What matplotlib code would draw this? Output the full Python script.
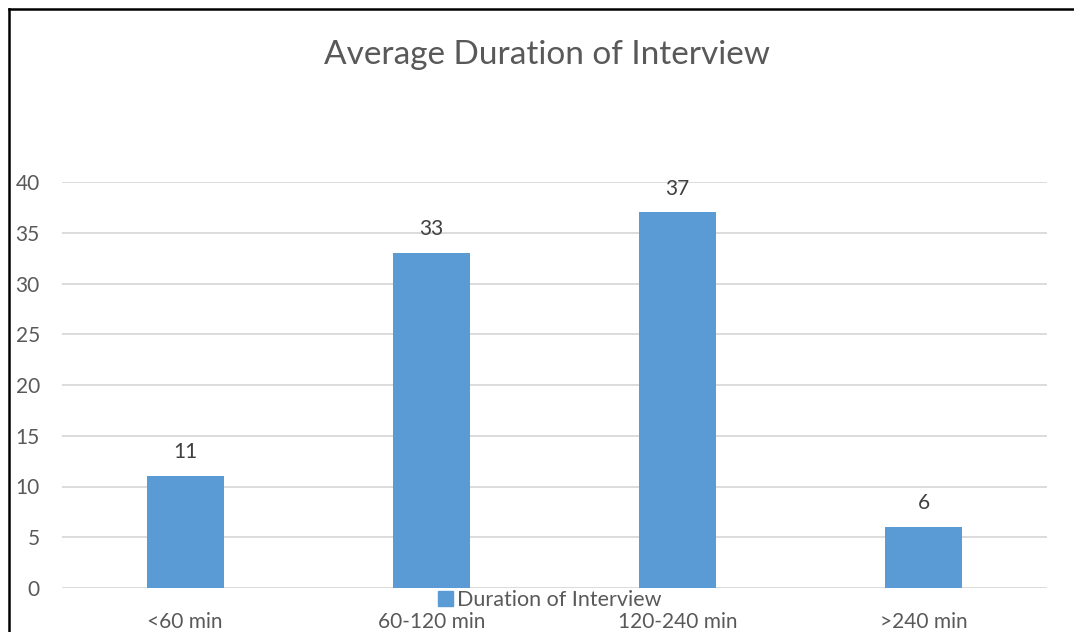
import matplotlib
matplotlib.use("Agg")
import matplotlib.pyplot as plt
from matplotlib.lines import Line2D
from matplotlib.patches import Patch

categories = ["<60 min", "60-120 min", "120-240 min", ">240 min"]
values = [11, 33, 37, 6]
series_name = "Duration of Interview"
title = "Average Duration of Interview"
y_ticks = [0, 5, 10, 15, 20, 25, 30, 35, 40]

BAR = "#5b9bd5"
TEXT = "#595959"
GRID = "#d9d9d9"

plt.rcParams["font.family"] = ["Lato", "DejaVu Sans"]

W, H = 1074, 632
fig = plt.figure(figsize=(W / 100, H / 100), dpi=100)
ax = fig.add_axes([62 / W, 1 - 588 / H, (1047 - 62) / W, (588 - 182) / H])

x = range(len(categories))
bars = ax.bar(x, values, width=0.3125, color=BAR, zorder=3)
for b, v in zip(bars, values):
    ax.annotate(str(v), (b.get_x() + b.get_width() / 2, v),
                xytext=(0, 10), textcoords="offset points",
                ha="center", va="bottom", fontsize=15, color="#404040")

ax.set_xlim(-0.5, len(categories) - 0.5)
ax.set_ylim(0, 40)
ax.set_yticks(y_ticks)
ax.set_xticks(list(x))
ax.set_xticklabels(categories)
ax.yaxis.grid(True, color=GRID, linewidth=1.3, zorder=0)
ax.tick_params(axis="both", length=0, labelsize=15, labelcolor=TEXT)
ax.tick_params(axis="x", pad=17.5)
ax.tick_params(axis="y", pad=16)
for s in ax.spines.values():
    s.set_visible(False)

fig.text(547 / W, 1 - 55 / H, title, ha="center", va="center",
         fontsize=24, color=TEXT)

leg = fig.legend(handles=[Patch(color=BAR, label=series_name)],
                 loc="center", bbox_to_anchor=(550 / W, 1 - 600 / H),
                 frameon=False, fontsize=15.5, handlelength=0.7,
                 handleheight=0.7, handletextpad=0.2, borderpad=0)
for t in leg.get_texts():
    t.set_color(TEXT)

# chart frame (left and top edges visible in the screenshot)
fig.add_artist(Line2D([8.5 / W, 8.5 / W], [0, 1 - 8.5 / H], color="black",
                      linewidth=1.8, transform=fig.transFigure))
fig.add_artist(Line2D([8.5 / W, 1], [1 - 8.5 / H, 1 - 8.5 / H], color="black",
                      linewidth=1.8, transform=fig.transFigure))

fig.savefig("out.png", dpi=100)
